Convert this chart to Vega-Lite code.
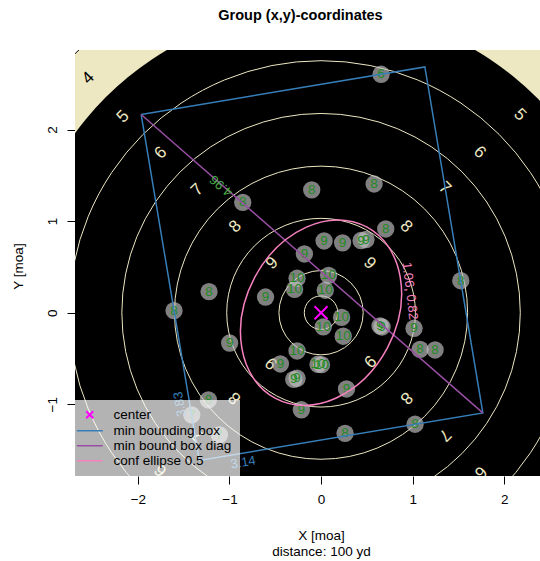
{
  "$schema": "https://vega.github.io/schema/vega-lite/v6.json",
  "width": 465,
  "height": 426,
  "autosize": {"type": "none"},
  "padding": {"left": 75, "top": 50, "right": 0, "bottom": 85},
  "config": {"view": {"stroke": null}, "font": "Liberation Sans"},
  "title": {"text": "Group (x,y)-coordinates", "fontSize": 14.5, "fontWeight": "bold", "font": "Liberation Sans", "color": "black", "dx": -7, "offset": 27},
  "datasets": {
    "shots": [
      {"x": 0.655, "y": 2.603, "score": "6"},
      {"x": -0.855, "y": 1.205, "score": "8"},
      {"x": -0.102, "y": 1.340, "score": "8"},
      {"x": 0.579, "y": 1.405, "score": "8"},
      {"x": 0.706, "y": 0.914, "score": "8"},
      {"x": 0.033, "y": 0.783, "score": "9"},
      {"x": 0.235, "y": 0.763, "score": "9"},
      {"x": 0.437, "y": 0.788, "score": "9"},
      {"x": 0.491, "y": 0.799, "score": "9"},
      {"x": -0.182, "y": 0.641, "score": "9"},
      {"x": -0.262, "y": 0.376, "score": "10"},
      {"x": -0.289, "y": 0.255, "score": "10"},
      {"x": 0.082, "y": 0.408, "score": "10"},
      {"x": 0.046, "y": 0.245, "score": "10"},
      {"x": -0.606, "y": 0.171, "score": "9"},
      {"x": -1.223, "y": 0.229, "score": "8"},
      {"x": -1.605, "y": 0.022, "score": "8"},
      {"x": 1.525, "y": 0.349, "score": "8"},
      {"x": 0.224, "y": -0.052, "score": "10"},
      {"x": 0.024, "y": -0.154, "score": "10"},
      {"x": 0.242, "y": -0.257, "score": "10"},
      {"x": 0.644, "y": -0.145, "score": "9"},
      {"x": 0.666, "y": -0.156, "score": "9"},
      {"x": 1.015, "y": -0.170, "score": "9"},
      {"x": 1.081, "y": -0.400, "score": "8"},
      {"x": 1.245, "y": -0.407, "score": "8"},
      {"x": -0.998, "y": -0.331, "score": "9"},
      {"x": -0.262, "y": -0.418, "score": "10"},
      {"x": -0.444, "y": -0.560, "score": "9"},
      {"x": -0.033, "y": -0.563, "score": "10"},
      {"x": 0.005, "y": -0.568, "score": "10"},
      {"x": -0.298, "y": -0.729, "score": "9"},
      {"x": -0.262, "y": -0.716, "score": "9"},
      {"x": 0.278, "y": -0.833, "score": "9"},
      {"x": -0.215, "y": -1.060, "score": "9"},
      {"x": 0.262, "y": -1.317, "score": "8"},
      {"x": 1.026, "y": -1.218, "score": "8"},
      {"x": -1.230, "y": -0.953, "score": "8"},
      {"x": -1.411, "y": -1.117, "score": "7"},
      {"x": -1.110, "y": -1.335, "score": "7"}
    ],
    "ringlabels": [
      {"x": -2.54, "y": 2.56, "label": "4", "dir": "UL4"},
      {"x": -2.16, "y": 2.14, "label": "5", "dir": "UL"},
      {"x": -1.75, "y": 1.745, "label": "6", "dir": "UL"},
      {"x": -1.35, "y": 1.34, "label": "7", "dir": "UL"},
      {"x": -0.935, "y": 0.94, "label": "8", "dir": "UL"},
      {"x": -0.535, "y": 0.54, "label": "9", "dir": "UL"},
      {"x": 2.17, "y": 2.16, "label": "5", "dir": "UR"},
      {"x": 1.73, "y": 1.75, "label": "6", "dir": "UR"},
      {"x": 1.35, "y": 1.36, "label": "7", "dir": "UR"},
      {"x": 0.93, "y": 0.94, "label": "8", "dir": "UR"},
      {"x": 0.53, "y": 0.54, "label": "9", "dir": "UR"},
      {"x": 0.53, "y": -0.53, "label": "9", "dir": "LR"},
      {"x": 0.93, "y": -0.93, "label": "8", "dir": "LR"},
      {"x": 1.35, "y": -1.335, "label": "7", "dir": "LR"},
      {"x": 1.74, "y": -1.74, "label": "6", "dir": "LR"},
      {"x": -0.54, "y": -0.55, "label": "9", "dir": "LL"},
      {"x": -0.94, "y": -0.93, "label": "8", "dir": "LL"},
      {"x": -1.34, "y": -1.34, "label": "7", "dir": "LL"},
      {"x": -1.75, "y": -1.72, "label": "6", "dir": "LL"}
    ]
  },
  "encoding": {
    "x": {
      "field": "x", "type": "quantitative",
      "scale": {"domain": [-2.686, 2.39], "nice": false, "zero": false},
      "axis": {
        "values": [-2, -1, 0, 1, 2], "grid": false, "domain": false,
        "tickSize": 8, "tickColor": "black", "labelColor": "black",
        "labelFontSize": 13.5, "labelPadding": 8, "labelFlush": false,
        "title": ["X [moa]", "distance: 100 yd"], "titleFontSize": 13.5, "titleFontWeight": "normal",
        "titleColor": "black", "titleLineHeight": 16.3, "titleX": 246, "titleY": 59, "titleBaseline": "middle"
      }
    },
    "y": {
      "field": "y", "type": "quantitative",
      "scale": {"domain": [-1.783, 2.868], "nice": false, "zero": false},
      "axis": {
        "values": [-1, 0, 1, 2], "grid": false, "domain": false,
        "tickSize": 8, "tickColor": "black", "labelColor": "black",
        "labelFontSize": 13.5, "labelAngle": -90, "labelAlign": "center", "labelBaseline": "alphabetic", "labelPadding": 11,
        "title": "Y [moa]", "titleFontSize": 13.5, "titleFontWeight": "normal", "titleColor": "black",
        "titleAngle": -90, "titleX": -57, "titleY": 216, "titleBaseline": "middle", "titleAlign": "center"
      }
    }
  },
  "layer": [
    {
      "data": {"values": [{"x": 0, "y": 0, "r": 3.9}]},
      "mark": {"type": "point", "shape": "circle", "filled": true, "fill": "#EEE8C2", "stroke": "black", "strokeWidth": 1, "opacity": 1, "clip": true},
      "encoding": {"size": {"field": "r", "type": "quantitative", "scale": {"type": "pow", "exponent": 2, "domain": [0, 1], "range": [0, 33562]}, "legend": null}}
    },
    {
      "data": {"values": [{"x": 0, "y": 0, "r": 3.325}]},
      "mark": {"type": "point", "shape": "circle", "filled": true, "fill": "black", "strokeWidth": 0, "opacity": 1, "clip": true},
      "encoding": {"size": {"field": "r", "type": "quantitative", "scale": {"type": "pow", "exponent": 2, "domain": [0, 1], "range": [0, 33562]}, "legend": null}}
    },
    {
      "data": {"values": [
        {"x": 0, "y": 0, "r": 0.183}, {"x": 0, "y": 0, "r": 0.46}, {"x": 0, "y": 0, "r": 1.03},
        {"x": 0, "y": 0, "r": 1.6}, {"x": 0, "y": 0, "r": 2.175}, {"x": 0, "y": 0, "r": 2.75}
      ]},
      "mark": {"type": "point", "shape": "circle", "filled": false, "stroke": "#EEE8C2", "strokeWidth": 1, "opacity": 1, "clip": true},
      "encoding": {"size": {"field": "r", "type": "quantitative", "scale": {"type": "pow", "exponent": 2, "domain": [0, 1], "range": [0, 33562]}, "legend": null}}
    },
    {
      "data": {"name": "ringlabels"},
      "transform": [{"filter": "datum.dir === 'UL4'"}],
      "mark": {"type": "text", "angle": 315, "fontSize": 17, "color": "black", "align": "center", "baseline": "middle", "clip": true},
      "encoding": {"text": {"field": "label"}}
    },
    {
      "data": {"name": "ringlabels"},
      "transform": [{"filter": "datum.dir === 'UL'"}],
      "mark": {"type": "text", "angle": 315, "fontSize": 17, "color": "#EEE8C2", "align": "center", "baseline": "middle", "clip": true},
      "encoding": {"text": {"field": "label"}}
    },
    {
      "data": {"name": "ringlabels"},
      "transform": [{"filter": "datum.dir === 'UR'"}],
      "mark": {"type": "text", "angle": 45, "fontSize": 17, "color": "#EEE8C2", "align": "center", "baseline": "middle", "clip": true},
      "encoding": {"text": {"field": "label"}}
    },
    {
      "data": {"name": "ringlabels"},
      "transform": [{"filter": "datum.dir === 'LR'"}],
      "mark": {"type": "text", "angle": 135, "fontSize": 17, "color": "#EEE8C2", "align": "center", "baseline": "middle", "clip": true},
      "encoding": {"text": {"field": "label"}}
    },
    {
      "data": {"name": "ringlabels"},
      "transform": [{"filter": "datum.dir === 'LL'"}],
      "mark": {"type": "text", "angle": 225, "fontSize": 17, "color": "#EEE8C2", "align": "center", "baseline": "middle", "clip": true},
      "encoding": {"text": {"field": "label"}}
    },
    {
      "data": {"name": "shots"},
      "mark": {"type": "point", "shape": "circle", "filled": true, "fill": "#BFBFBF", "opacity": 0.67, "strokeWidth": 0, "size": 300}
    },
    {
      "data": {"name": "shots"},
      "mark": {"type": "text", "fontSize": 13.5, "color": "#228B22", "align": "center", "baseline": "middle"},
      "encoding": {"text": {"field": "score"}}
    },
    {
      "data": {"values": [
        {"x": -1.964, "y": 2.164, "i": 0, "series": "min bounding box"},
        {"x": 1.133, "y": 2.683, "i": 1, "series": "min bounding box"},
        {"x": 1.766, "y": -1.094, "i": 2, "series": "min bounding box"},
        {"x": -1.330, "y": -1.613, "i": 3, "series": "min bounding box"},
        {"x": -1.964, "y": 2.164, "i": 4, "series": "min bounding box"}
      ]},
      "mark": {"type": "line", "strokeWidth": 1.5, "clip": true},
      "encoding": {
        "order": {"field": "i", "type": "quantitative"},
        "color": {
          "field": "series", "type": "nominal",
          "scale": {"domain": ["center", "min bounding box", "min bound box diag", "conf ellipse 0.5"], "range": ["#FF00FF", "#377EB8", "#984EA3", "#F781BF"]},
          "legend": {
            "orient": "bottom-left", "offset": 0, "title": null,
            "fillColor": "rgba(255,255,255,0.7)", "padding": 8, "rowPadding": 0,
            "labelFontSize": 13.5, "labelFont": "Liberation Sans", "labelColor": "black", "labelOffset": 17, "labelLimit": 300,
            "symbolSize": 225, "symbolStrokeWidth": 1.5, "symbolType": "stroke",
            "encode": {
              "symbols": {
                "update": {
                  "shape": {"signal": "datum.value === 'center' ? 'M-0.47,-0.47L0.47,0.47M-0.47,0.47L0.47,-0.47' : 'M-1.72,0L1.72,0'"},
                  "stroke": {"scale": "color", "field": "value"},
                  "fill": {"value": "transparent"},
                  "strokeWidth": {"signal": "datum.value === 'center' ? 2 : 1.5"},
                  "opacity": {"value": 1}
                }
              }
            }
          }
        }
      }
    },
    {
      "data": {"values": [
        {"x": -1.964, "y": 2.164, "series": "min bound box diag"},
        {"x": 1.766, "y": -1.094, "series": "min bound box diag"}
      ]},
      "mark": {"type": "line", "strokeWidth": 1.5, "clip": true},
      "encoding": {"color": {"field": "series", "type": "nominal"}}
    },
    {
      "data": {"values": [{"x": 0, "y": 0, "r": 1.06, "series": "conf ellipse 0.5"}]},
      "mark": {"type": "point", "shape": "M0,-1C0.4275,-1,0.774,-0.5523,0.774,0C0.774,0.5523,0.4275,1,0,1C-0.4275,1,-0.774,0.5523,-0.774,0C-0.774,-0.5523,-0.4275,-1,0,-1Z", "filled": false, "strokeWidth": 1.5, "opacity": 1, "angle": 28},
      "encoding": {
        "color": {"field": "series", "type": "nominal"},
        "size": {"field": "r", "type": "quantitative", "scale": {"type": "pow", "exponent": 2, "domain": [0, 1], "range": [0, 33562]}, "legend": null}
      }
    },
    {
      "data": {"values": [{"x": 0, "y": 0, "series": "center"}]},
      "mark": {"type": "point", "shape": "M-1,-1L1,1M-1,1L1,-1", "filled": false, "strokeWidth": 2, "opacity": 1, "size": 169},
      "encoding": {"color": {"field": "series", "type": "nominal"}}
    },
    {
      "data": {"values": [{"x": -1.09, "y": 1.385, "label": "4.96"}]},
      "mark": {"type": "text", "angle": 221, "fontSize": 13, "color": "#4DAF4A", "align": "center", "baseline": "middle"},
      "encoding": {"text": {"field": "label"}}
    },
    {
      "data": {"values": [{"x": -1.54, "y": -1.0, "label": "3.83"}, {"x": -0.851, "y": -1.636, "label": "3.14"}]},
      "mark": {"type": "text", "fontSize": 13, "color": "#377EB8", "align": "center", "baseline": "middle"},
      "encoding": {"text": {"field": "label"}, "angle": {"field": "label", "type": "nominal", "scale": {"domain": ["3.83", "3.14"], "range": [260.5, 350.5]}, "legend": null}}
    },
    {
      "data": {"values": [{"x": 0.97, "y": 0.237, "label": "1.06, 0.82"}]},
      "mark": {"type": "text", "angle": 83, "fontSize": 13, "color": "#F781BF", "align": "center", "baseline": "middle"},
      "encoding": {"text": {"field": "label"}}
    }
  ]
}
